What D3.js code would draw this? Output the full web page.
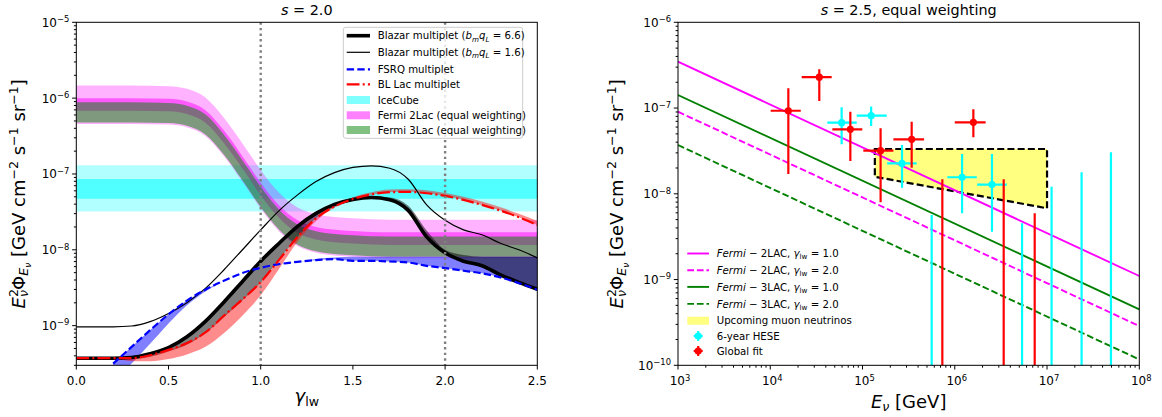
<!DOCTYPE html>
<html>
<head>
<meta charset="utf-8">
<script src="https://cdn.jsdelivr.net/npm/d3@7"></script>
<style>
  body { margin: 0; background: #fff; }
  svg { display: block; font-family: "DejaVu Sans", sans-serif; }
</style>
</head>
<body>
<svg id="chart" width="1162" height="417"></svg>
<script>
// ---------------- left panel (s = 2.0): flux vs gamma_lw ----------------
const gammaGrid = [0, 0.1, 0.2, 0.3, 0.4, 0.5, 0.6, 0.7, 0.8, 0.9, 1.0, 1.1, 1.2,
  1.3, 1.4, 1.5, 1.6, 1.7, 1.8, 1.9, 2.0, 2.1, 2.2, 2.3, 2.4, 2.5];

const blazarThick = [3.72e-10, 3.72e-10, 3.72e-10, 3.80e-10, 4.27e-10, 5.13e-10, 7.14e-10,
  1.14e-9, 2.04e-9, 3.80e-9, 7.08e-9, 1.22e-8, 2.04e-8, 3.02e-8, 3.98e-8, 4.62e-8, 4.90e-8,
  4.57e-8, 3.31e-8, 1.48e-8, 9.12e-9, 7.08e-9, 6.17e-9, 4.68e-9, 3.72e-9, 3.02e-9];
const blazarThickLow = [3.63e-10, 3.63e-10, 3.63e-10, 3.63e-10, 3.89e-10, 4.57e-10, 5.62e-10,
  7.94e-10, 1.29e-9, 2.14e-9, 3.72e-9, 7.41e-9, 1.46e-8, 2.60e-8, 3.72e-8, 4.57e-8, 4.90e-8,
  4.57e-8, 3.31e-8, 1.48e-8, 9.12e-9, 7.08e-9, 6.17e-9, 4.68e-9, 3.72e-9, 3.02e-9];
const blazarThickHigh = [3.72e-10, 3.72e-10, 3.72e-10, 3.80e-10, 4.27e-10, 5.13e-10, 7.14e-10,
  1.14e-9, 2.04e-9, 3.80e-9, 7.08e-9, 1.22e-8, 2.04e-8, 3.02e-8, 3.98e-8, 4.62e-8, 5.01e-8,
  4.90e-8, 3.80e-8, 1.80e-8, 1.00e-8, 8.51e-9, 8.13e-9, 8.13e-9, 8.13e-9, 8.13e-9];

const blazarThin = [9.66e-10, 9.66e-10, 9.66e-10, 9.89e-10, 1.13e-9, 1.45e-9, 2.01e-9,
  3.10e-9, 5.42e-9, 9.95e-9, 1.83e-8, 3.29e-8, 5.30e-8, 7.94e-8, 1.04e-7, 1.22e-7, 1.28e-7,
  1.19e-7, 8.53e-8, 3.91e-8, 2.45e-8, 1.83e-8, 1.58e-8, 1.22e-8, 1.00e-8, 7.83e-9];

const blLac = [3.72e-10, 3.72e-10, 3.72e-10, 3.72e-10, 4.07e-10, 4.79e-10, 5.89e-10,
  8.13e-10, 1.35e-9, 2.21e-9, 3.76e-9, 7.41e-9, 1.48e-8, 2.60e-8, 3.72e-8, 4.68e-8, 5.37e-8,
  5.75e-8, 5.81e-8, 5.57e-8, 5.14e-8, 4.55e-8, 3.91e-8, 3.29e-8, 2.69e-8, 2.13e-8];
const blLacLow = [3.72e-10, 3.72e-10, 3.72e-10, 3.39e-10, 3.39e-10, 3.63e-10, 4.17e-10,
  5.25e-10, 7.94e-10, 1.35e-9, 2.51e-9, 5.62e-9, 1.29e-8, 2.40e-8, 3.59e-8, 4.57e-8, 5.31e-8,
  5.75e-8, 5.81e-8, 5.57e-8, 5.14e-8, 4.55e-8, 3.91e-8, 3.29e-8, 2.69e-8, 2.13e-8];
const blLacHigh = [3.72e-10, 3.72e-10, 3.72e-10, 3.72e-10, 4.07e-10, 4.79e-10, 5.89e-10,
  8.13e-10, 1.35e-9, 2.21e-9, 3.76e-9, 7.41e-9, 1.48e-8, 2.60e-8, 3.85e-8, 4.95e-8, 5.75e-8,
  6.24e-8, 6.31e-8, 6.10e-8, 5.62e-8, 5.01e-8, 4.32e-8, 3.63e-8, 2.99e-8, 2.40e-8];

const fsrqGamma = [0.2, 0.3, 0.4, 0.5, 0.6, 0.7, 0.8, 0.9, 1.0, 1.1, 1.2, 1.3, 1.4, 1.5,
  1.6, 1.7, 1.8, 1.9, 2.0, 2.1, 2.2, 2.3, 2.4, 2.5];
const fsrq = [3.16e-10, 5.25e-10, 8.71e-10, 1.41e-9, 2.14e-9, 2.98e-9, 3.91e-9, 4.93e-9,
  5.79e-9, 6.47e-9, 6.95e-9, 7.31e-9, 7.53e-9, 7.16e-9, 7.16e-9, 7.01e-9, 6.81e-9, 6.15e-9,
  5.74e-9, 5.30e-9, 4.89e-9, 4.33e-9, 3.64e-9, 2.98e-9];
const fsrqLow = [1.78e-10, 3.16e-10, 5.75e-10, 1.07e-9, 1.86e-9, 2.82e-9, 3.91e-9, 4.93e-9,
  5.79e-9, 6.47e-9, 6.95e-9, 7.31e-9, 7.53e-9, 7.16e-9, 7.16e-9, 7.01e-9, 6.81e-9, 6.15e-9,
  5.74e-9, 5.30e-9, 4.89e-9, 4.33e-9, 3.64e-9, 2.98e-9];
const fsrqHigh = [3.16e-10, 5.25e-10, 8.71e-10, 1.41e-9, 2.14e-9, 2.98e-9, 3.91e-9, 4.93e-9,
  5.79e-9, 6.47e-9, 6.95e-9, 7.59e-9, 7.94e-9, 8.13e-9, 8.13e-9, 8.13e-9, 8.13e-9, 8.13e-9,
  8.13e-9, 8.13e-9, 8.13e-9, 8.13e-9, 8.13e-9, 8.13e-9];

// Fermi bands (2LAC outer/inner, 3LAC)
const fermiGamma = [0, 0.3, 0.5, 0.6, 0.7, 0.8, 0.9, 1.0, 1.1, 1.2, 1.3, 1.4, 1.5, 1.7, 2.0, 2.5];
const fermi2OuterHigh = [1.47e-6, 1.47e-6, 1.44e-6, 1.33e-6, 1.02e-6, 5.52e-7, 2.55e-7, 1.13e-7,
  5.64e-8, 3.60e-8, 2.94e-8, 2.70e-8, 2.60e-8, 2.49e-8, 2.49e-8, 2.48e-8];
const fermi2OuterLow = [4.57e-7, 4.57e-7, 4.48e-7, 4.13e-7, 3.17e-7, 1.72e-7, 7.93e-8, 3.51e-8,
  1.75e-8, 1.12e-8, 9.14e-9, 8.41e-9, 8.09e-9, 7.76e-9, 7.76e-9, 7.76e-9];
const fermi2InnerHigh = [1.00e-6, 1.00e-6, 9.79e-7, 9.04e-7, 6.93e-7, 3.76e-7, 1.73e-7, 7.67e-8,
  3.84e-8, 2.45e-8, 2.00e-8, 1.84e-8, 1.77e-8, 1.70e-8, 1.70e-8, 1.70e-8];
const fermi2InnerLow = [6.84e-7, 6.84e-7, 6.70e-7, 6.18e-7, 4.74e-7, 2.57e-7, 1.19e-7, 5.25e-8,
  2.62e-8, 1.67e-8, 1.37e-8, 1.26e-8, 1.21e-8, 1.16e-8, 1.16e-8, 1.16e-8];
const fermi3High = [8.81e-7, 8.81e-7, 8.63e-7, 7.96e-7, 6.11e-7, 3.31e-7, 1.53e-7, 6.76e-8,
  3.38e-8, 2.16e-8, 1.76e-8, 1.62e-8, 1.56e-8, 1.50e-8, 1.50e-8, 1.50e-8];
const fermi3Low = [4.79e-7, 4.79e-7, 4.69e-7, 4.33e-7, 3.32e-7, 1.80e-7, 8.30e-8, 3.67e-8,
  1.84e-8, 1.17e-8, 9.57e-9, 8.81e-9, 8.47e-9, 8.13e-9, 8.13e-9, 8.13e-9];

const icecubeOuter = [3.2e-8, 1.3e-7];
const icecubeInner = [4.7e-8, 8.6e-8];
const markerGammas = [1.0, 2.0];

const leftXTicks = [0, 0.5, 1.0, 1.5, 2.0, 2.5];
const leftYTicks = [1e-9, 1e-8, 1e-7, 1e-6, 1e-5];

// ---------------- right panel (s = 2.5): flux vs energy ----------------
const fermiE = [1e3, 1e8];
const fermi2LacG1 = [3.47e-7, 1.10e-9];
const fermi2LacG2 = [9.06e-8, 2.87e-10];
const fermi3LacG1 = [1.42e-7, 4.49e-10];
const fermi3LacG2 = [3.70e-8, 1.17e-10];

const upcomingE = [1.36e5, 1.0e7];
const upcomingTop = [3.33e-8, 3.33e-8];
const upcomingBottom = [1.58e-8, 6.78e-9];

const heseE = [5.94e4, 1.24e5, 2.68e5, 1.20e6, 2.53e6];
const heseF = [6.75e-8, 8.15e-8, 2.26e-8, 1.56e-8, 1.28e-8];
const heseElo = [4.15e4, 8.65e4, 1.85e5, 8.30e5, 1.75e6];
const heseEhi = [8.65e4, 1.83e5, 3.86e5, 1.73e6, 3.66e6];
const heseFlo = [3.78e-8, 6.18e-8, 1.18e-8, 5.93e-9, 3.61e-9];
const heseFhi = [1.02e-7, 1.04e-7, 3.71e-8, 2.91e-8, 2.91e-8];
const heseLimitE = [5.62e5, 5.36e6, 1.12e7, 2.37e7, 4.93e7];
const heseLimitF = [5.66e-9, 4.53e-9, 1.21e-8, 1.78e-8, 3.05e-8];

const globalE = [1.57e4, 3.40e4, 7.38e4, 1.57e5, 3.41e5, 1.59e6];
const globalF = [9.3e-8, 2.29e-7, 5.65e-8, 3.18e-8, 4.32e-8, 6.82e-8];
const globalElo = [1.01e4, 2.19e4, 4.71e4, 1.02e5, 2.16e5, 1.0e6];
const globalEhi = [2.14e4, 4.63e4, 9.95e4, 2.16e5, 4.65e5, 2.16e6];
const globalFlo = [1.70e-8, 1.21e-7, 2.42e-8, 7.96e-9, 2.01e-8, 4.56e-8];
const globalFhi = [1.70e-7, 2.83e-7, 9.06e-8, 5.81e-8, 6.93e-8, 9.66e-8];
const globalLimitE = [7.33e5, 3.39e6, 7.35e6];
const globalLimitF = [1.48e-8, 1.48e-8, 5.93e-9];

const rightXTicks = [1e3, 1e4, 1e5, 1e6, 1e7, 1e8];
const rightYTicks = [1e-10, 1e-9, 1e-8, 1e-7, 1e-6];

// ---------------- layout ----------------
const PL = { x0: 76.3, x1: 537.3, y0: 22.3, y1: 365.3 };
const PR = { x0: 678, x1: 1139.3, y0: 22.3, y1: 365.3 };

const xL = d3.scaleLinear().domain([0, 2.5]).range([PL.x0, PL.x1]);
const yL = d3.scaleLog().domain([3e-10, 1e-5]).range([PL.y1, PL.y0]);
const xR = d3.scaleLog().domain([1e3, 1e8]).range([PR.x0, PR.x1]);
const yR = d3.scaleLog().domain([1e-10, 1e-6]).range([PR.y1, PR.y0]);

const svg = d3.select("#chart");
const defs = svg.append("defs");
[["clipL", PL], ["clipR", PR]].forEach(([id, p]) => {
  defs.append("clipPath").attr("id", id).append("rect")
    .attr("x", p.x0).attr("y", p.y0).attr("width", p.x1 - p.x0).attr("height", p.y1 - p.y0);
});

// text with italic / sub / sup runs
function richText(g, x, y, parts, size, anchor) {
  const t = g.append("text").attr("x", x).attr("y", y)
    .attr("font-size", size).attr("text-anchor", anchor || "start").attr("fill", "#000");
  let shift = 0;
  parts.forEach(p => {
    let s = 0, fs = size;
    if (p.sub) { s = size * 0.22; fs = size * 0.7; }
    if (p.sup) { s = -size * 0.38; fs = size * 0.7; }
    if (p.sub2) { s = size * 0.36; fs = size * 0.5; }
    const ts = t.append("tspan").text(p.t).attr("dy", (s - shift).toFixed(2)).attr("font-size", fs);
    shift = s;
    if (p.it) ts.attr("font-style", "italic");
    if (p.dx) ts.attr("dx", p.dx);
  });
  return t;
}

// ---------------- left panel drawing ----------------
const gL = svg.append("g").attr("clip-path", "url(#clipL)");

function bandL(xs, lo, hi, fill, op) {
  const data = xs.map((x, i) => ({ x, lo: lo[i], hi: hi[i] }));
  gL.append("path").datum(data)
    .attr("d", d3.area().x(d => xL(d.x)).y0(d => yL(d.lo)).y1(d => yL(d.hi)).curve(d3.curveMonotoneX))
    .attr("fill", fill).attr("fill-opacity", op);
}
function lineL(xs, ys, stroke, w, dash) {
  const data = xs.map((x, i) => ({ x, y: ys[i] }));
  const p = gL.append("path").datum(data)
    .attr("d", d3.line().x(d => xL(d.x)).y(d => yL(d.y)).curve(d3.curveMonotoneX))
    .attr("fill", "none").attr("stroke", stroke).attr("stroke-width", w)
    .attr("stroke-linejoin", "round");
  if (dash) p.attr("stroke-dasharray", dash);
}

// IceCube bands
bandL([0, 2.5], [icecubeOuter[0], icecubeOuter[0]], [icecubeOuter[1], icecubeOuter[1]], "#00ffff", 0.3);
bandL([0, 2.5], [icecubeInner[0], icecubeInner[0]], [icecubeInner[1], icecubeInner[1]], "#00ffff", 0.55);
// Fermi bands
bandL(fermiGamma, fermi2OuterLow, fermi2OuterHigh, "#ff00ff", 0.3);
bandL(fermiGamma, fermi2InnerLow, fermi2InnerHigh, "#ff00ff", 0.5);
bandL(fermiGamma, fermi3Low, fermi3High, "#008000", 0.5);
// model uncertainty bands
bandL(fsrqGamma, fsrqLow, fsrqHigh, "#0000ff", 0.5);
bandL(gammaGrid, blazarThickLow, blazarThickHigh, "#000000", 0.5);
bandL(gammaGrid, blLacLow, blLacHigh, "#ff0000", 0.45);
// model curves
lineL(gammaGrid, blazarThick, "#000", 3.6);
lineL(gammaGrid, blazarThin, "#000", 1.2);
lineL(fsrqGamma, fsrq, "#0000ff", 2.2, "7.4,3.2");
lineL(gammaGrid, blLac, "#ff0000", 2.2, "12.8,3.2,2,3.2");
// reference gamma markers
markerGammas.forEach(g => {
  gL.append("line").attr("x1", xL(g)).attr("x2", xL(g)).attr("y1", PL.y0).attr("y2", PL.y1)
    .attr("stroke", "#808080").attr("stroke-width", 2.4).attr("stroke-dasharray", "2.4,3.2");
});

// ---------------- right panel drawing ----------------
const gR = svg.append("g").attr("clip-path", "url(#clipR)");

// upcoming muon neutrino region
const poly = [[upcomingE[0], upcomingTop[0]], [upcomingE[1], upcomingTop[1]],
  [upcomingE[1], upcomingBottom[1]], [upcomingE[0], upcomingBottom[0]]];
gR.append("path")
  .attr("d", "M" + poly.map(p => xR(p[0]) + "," + yR(p[1])).join("L") + "Z")
  .attr("fill", "#ffff80").attr("stroke", "#000").attr("stroke-width", 2.2)
  .attr("stroke-dasharray", "7,3.2");

function lineR(ys, stroke, dash) {
  const p = gR.append("path").datum(fermiE.map((e, i) => [e, ys[i]]))
    .attr("d", d3.line().x(d => xR(d[0])).y(d => yR(d[1])))
    .attr("fill", "none").attr("stroke", stroke).attr("stroke-width", 1.9);
  if (dash) p.attr("stroke-dasharray", dash);
}
lineR(fermi2LacG1, "#ff00ff");
lineR(fermi2LacG2, "#ff00ff", "6.7,2.9");
lineR(fermi3LacG1, "#008000");
lineR(fermi3LacG2, "#008000", "6.7,2.9");

function points(E, F, Elo, Ehi, Flo, Fhi, limE, limF, color) {
  const g = gR.append("g").attr("stroke", color).attr("stroke-width", 2.2);
  limE.forEach((e, i) => {
    g.append("line").attr("x1", xR(e)).attr("x2", xR(e)).attr("y1", yR(limF[i])).attr("y2", PR.y1 + 2);
  });
  E.forEach((e, i) => {
    g.append("line").attr("x1", xR(e)).attr("x2", xR(e)).attr("y1", yR(Flo[i])).attr("y2", yR(Fhi[i]));
    g.append("line").attr("x1", xR(Elo[i])).attr("x2", xR(Ehi[i])).attr("y1", yR(F[i])).attr("y2", yR(F[i]));
  });
  E.forEach((e, i) => {
    gR.append("circle").attr("cx", xR(e)).attr("cy", yR(F[i])).attr("r", 3.6).attr("fill", color);
  });
}
points(heseE, heseF, heseElo, heseEhi, heseFlo, heseFhi, heseLimitE, heseLimitF, "#00ffff");
points(globalE, globalF, globalElo, globalEhi, globalFlo, globalFhi, globalLimitE, globalLimitF, "#ff0000");

// ---------------- axes ----------------
const axes = svg.append("g");
function frame(p) {
  axes.append("rect").attr("x", p.x0).attr("y", p.y0).attr("width", p.x1 - p.x0)
    .attr("height", p.y1 - p.y0).attr("fill", "none").attr("stroke", "#000").attr("stroke-width", 1);
}
function tickMark(x1, y1, x2, y2) {
  axes.append("line").attr("x1", x1).attr("y1", y1).attr("x2", x2).attr("y2", y2)
    .attr("stroke", "#000").attr("stroke-width", 1);
}
function minorLog(lo, hi) {
  const out = [];
  for (let n = Math.floor(Math.log10(lo)); n <= Math.ceil(Math.log10(hi)); n++) {
    for (let k = 2; k <= 9; k++) {
      const v = k * Math.pow(10, n);
      if (v >= lo * 0.999 && v <= hi * 1.001) out.push(v);
    }
  }
  return out;
}
const sup = n => String(n).replace("-", "\u2212");

// left
frame(PL);
leftXTicks.forEach(v => {
  tickMark(xL(v), PL.y1, xL(v), PL.y1 + 4.2);
  axes.append("text").attr("x", xL(v)).attr("y", PL.y1 + 19.8).attr("font-size", 12)
    .attr("text-anchor", "middle").text(v.toFixed(1));
});
leftYTicks.forEach(v => {
  tickMark(PL.x0 - 4.2, yL(v), PL.x0, yL(v));
  richText(axes, PL.x0 - 7, yL(v) + 4.4,
    [{ t: "10" }, { t: sup(Math.round(Math.log10(v))), sup: true }], 12, "end");
});
minorLog(3e-10, 1e-5).forEach(v => tickMark(PL.x0 - 2.4, yL(v), PL.x0, yL(v)));

// right
frame(PR);
rightXTicks.forEach(v => {
  tickMark(xR(v), PR.y1, xR(v), PR.y1 + 4.2);
  richText(axes, xR(v) + 2, PR.y1 + 19.8,
    [{ t: "10" }, { t: sup(Math.round(Math.log10(v))), sup: true }], 12, "middle");
});
minorLog(1e3, 1e8).forEach(v => tickMark(xR(v), PR.y1, xR(v), PR.y1 + 2.4));
rightYTicks.forEach(v => {
  tickMark(PR.x0 - 4.2, yR(v), PR.x0, yR(v));
  richText(axes, PR.x0 - 7, yR(v) + 4.4,
    [{ t: "10" }, { t: sup(Math.round(Math.log10(v))), sup: true }], 12, "end");
});
minorLog(1e-10, 1e-6).forEach(v => tickMark(PR.x0 - 2.4, yR(v), PR.x0, yR(v)));

// titles and axis labels
richText(axes, (PL.x0 + PL.x1) / 2, 14.5, [{ t: "s", it: true }, { t: " = 2.0" }], 14.4, "middle");
richText(axes, (PR.x0 + PR.x1) / 2, 14.5, [{ t: "s", it: true }, { t: " = 2.5, equal weighting" }], 14.4, "middle");
richText(axes, (PL.x0 + PL.x1) / 2, 402, [{ t: "\u03b3", it: true }, { t: "lw", sub: true }], 18, "middle");
richText(axes, (PR.x0 + PR.x1) / 2, 407.5, [{ t: "E", it: true }, { t: "\u03bd", it: true, sub: true },
  { t: " [GeV]" }], 18, "middle");

const yLabelParts = [
  { t: "E", it: true }, { t: "2", sup: true }, { t: "\u03bd", it: true, sub: true, dx: -8 },
  { t: "\u03a6" }, { t: "E", it: true, sub: true }, { t: "\u03bd", it: true, sub2: true },
  { t: " [GeV cm" }, { t: "\u22122", sup: true }, { t: " s" }, { t: "\u22121", sup: true },
  { t: " sr" }, { t: "\u22121", sup: true }, { t: "]" }
];
[[24.5, PL], [622.5, PR]].forEach(([x, p]) => {
  const g = axes.append("g").attr("transform", `translate(${x},${(p.y0 + p.y1) / 2}) rotate(-90)`);
  richText(g, 0, 0, yLabelParts, 18, "middle");
});

// ---------------- legends ----------------
const legL = svg.append("g");
legL.append("rect").attr("x", 343.3).attr("y", 27.3).attr("width", 179.4).attr("height", 111)
  .attr("rx", 2.5).attr("fill", "#fff").attr("fill-opacity", 0.8)
  .attr("stroke", "#cccccc").attr("stroke-width", 1);
const leftRows = [35.7, 52.3, 69.3, 84.3, 100, 115.3, 130];
const legendLeft = [
  { kind: "line", stroke: "#000", w: 3.6, parts: [{ t: "Blazar multiplet (" }, { t: "b", it: true },
    { t: "m", it: true, sub: true }, { t: "q", it: true }, { t: "L", it: true, sub: true }, { t: " = 6.6)" }] },
  { kind: "line", stroke: "#000", w: 1.2, parts: [{ t: "Blazar multiplet (" }, { t: "b", it: true },
    { t: "m", it: true, sub: true }, { t: "q", it: true }, { t: "L", it: true, sub: true }, { t: " = 1.6)" }] },
  { kind: "line", stroke: "#0000ff", w: 2.2, dash: "7.4,3.2", parts: [{ t: "FSRQ multiplet" }] },
  { kind: "line", stroke: "#ff0000", w: 2.2, dash: "12.8,3.2,2,3.2", parts: [{ t: "BL Lac multiplet" }] },
  { kind: "patch", fill: "#80ffff", parts: [{ t: "IceCube" }] },
  { kind: "patch", fill: "#ff80ff", parts: [{ t: "Fermi 2Lac (equal weighting)" }] },
  { kind: "patch", fill: "#80c080", parts: [{ t: "Fermi 3Lac (equal weighting)" }] }
];
legendLeft.forEach((e, i) => {
  const y = leftRows[i];
  if (e.kind === "line") {
    const l = legL.append("line").attr("x1", 346.7).attr("x2", 370).attr("y1", y).attr("y2", y)
      .attr("stroke", e.stroke).attr("stroke-width", e.w);
    if (e.dash) l.attr("stroke-dasharray", e.dash);
  } else {
    legL.append("rect").attr("x", 346.7).attr("y", y - 4).attr("width", 23.3).attr("height", 8).attr("fill", e.fill);
  }
  richText(legL, 377.7, y + 3.7, e.parts, 10.2);
});

const legR = svg.append("g");
const rightRows = [253.5, 270.2, 286.9, 303.9, 320.7, 336, 351];
const legendRight = [
  { kind: "line", stroke: "#ff00ff", g: "1.0", lac: "2LAC" },
  { kind: "line", stroke: "#ff00ff", dash: "6.7,2.9", g: "2.0", lac: "2LAC" },
  { kind: "line", stroke: "#008000", g: "1.0", lac: "3LAC" },
  { kind: "line", stroke: "#008000", dash: "6.7,2.9", g: "2.0", lac: "3LAC" },
  { kind: "patch", label: "Upcoming muon neutrinos" },
  { kind: "point", color: "#00ffff", label: "6-year HESE" },
  { kind: "point", color: "#ff0000", label: "Global fit" }
];
legendRight.forEach((e, i) => {
  const y = rightRows[i];
  let parts;
  if (e.kind === "line") {
    const l = legR.append("line").attr("x1", 687.3).attr("x2", 709).attr("y1", y).attr("y2", y)
      .attr("stroke", e.stroke).attr("stroke-width", 1.9);
    if (e.dash) l.attr("stroke-dasharray", e.dash);
    parts = [{ t: "Fermi", it: true }, { t: " \u2212 " + e.lac + ",  " }, { t: "\u03b3", it: true },
      { t: "lw", sub: true }, { t: " = " + e.g }];
  } else if (e.kind === "patch") {
    legR.append("rect").attr("x", 687.3).attr("y", y - 4).attr("width", 21.7).attr("height", 8).attr("fill", "#ffff80");
    parts = [{ t: e.label }];
  } else {
    const cx = 698.2;
    legR.append("line").attr("x1", cx).attr("x2", cx).attr("y1", y - 5).attr("y2", y + 5)
      .attr("stroke", e.color).attr("stroke-width", 2.2);
    legR.append("line").attr("x1", cx - 4.5).attr("x2", cx + 4.5).attr("y1", y).attr("y2", y)
      .attr("stroke", e.color).attr("stroke-width", 2.2);
    legR.append("circle").attr("cx", cx).attr("cy", y).attr("r", 3.6).attr("fill", e.color);
    parts = [{ t: e.label }];
  }
  richText(legR, 716.7, y + 3.7, parts, 10.2);
});
</script>
</body>
</html>
